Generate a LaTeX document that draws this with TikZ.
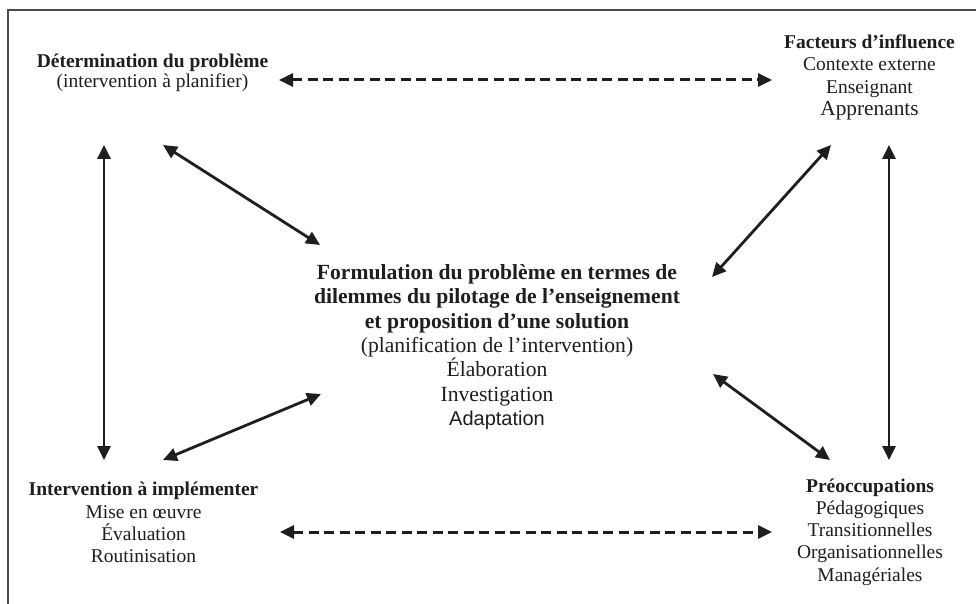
\documentclass[tikz,border=0pt]{standalone}
\usepackage{fontspec}
\setmainfont{Liberation Serif}
\newfontfamily\sansf{Liberation Sans}
\usetikzlibrary{arrows.meta}
\definecolor{ink}{HTML}{1E1E1E}
\definecolor{framec}{HTML}{4A4A4A}
\begin{document}
\begin{tikzpicture}[x=1pt,y=-1pt,
  tip/.tip={Triangle[length=14pt,width=13pt]},
  lbl/.style={align=center, inner sep=0pt, text=ink},
  corner/.style={lbl, font=\fontsize{19.5}{22.3}\selectfont},
  mid/.style={lbl, font=\fontsize{21.6}{24.3}\selectfont},
  solidarrow/.style={draw=ink, line width=2.8pt, tip-tip},
  dasharrow/.style={draw=ink, line width=3pt, dash pattern=on 10pt off 5.5pt, tip-tip},
  framel/.style={draw=framec, line width=1.8pt}
]
\useasboundingbox (0,0) rectangle (976,604);
\fill[white] (0,0) rectangle (976,604);
\draw[framel] (990,10) -- (8,10) -- (8,620);

\node[corner, font=\fontsize{19.5}{20.5}\selectfont] (det) at (152.5,73)
  {\textbf{Détermination du problème}\\(intervention à planifier)};
\node[corner] (fac) at (869.5,77.5)
  {\textbf{Facteurs d’influence}\\Contexte externe\\Enseignant\\{\fontsize{21.3}{22.3}\selectfont Apprenants}};
\node[mid] (form) at (497,347)
  {\textbf{Formulation du problème en termes de}\\
   \textbf{dilemmes du pilotage de l’enseignement}\\
   \textbf{et proposition d’une solution}\\
   (planification de l’intervention)\\
   Élaboration\\Investigation\\{\sansf\fontsize{20}{24.3}\selectfont Adaptation}};
\node[corner] (impl) at (143.5,522.5)
  {\textbf{Intervention à implémenter}\\Mise en œuvre\\Évaluation\\Routinisation};
\node[corner] (preo) at (870,532)
  {\textbf{Préoccupations}\\Pédagogiques\\Transitionnelles\\Organisationnelles\\Managériales};

\coordinate (detE) at (279,80);
\coordinate (facW) at (772,80);
\coordinate (implE) at (280,532);
\coordinate (preoW) at (772,532);
\coordinate (detS) at (104,145);
\coordinate (implN) at (104,460);
\coordinate (facS) at (889,145);
\coordinate (preoN) at (889,460);
\coordinate (detSE) at (163,145);
\coordinate (formNW) at (320,245);
\coordinate (facSW) at (831,145);
\coordinate (formNE) at (712,277);
\coordinate (implNE) at (163,460);
\coordinate (formSW) at (321,394);
\coordinate (formSE) at (713,374);
\coordinate (preoNW) at (830,460);

\draw[dasharrow] (detE) -- (facW);
\draw[dasharrow] (implE) -- (preoW);
\draw[solidarrow] (detS) -- (implN);
\draw[solidarrow] (facS) -- (preoN);
\draw[solidarrow] (detSE) -- (formNW);
\draw[solidarrow] (facSW) -- (formNE);
\draw[solidarrow] (implNE) -- (formSW);
\draw[solidarrow] (formSE) -- (preoNW);
\end{tikzpicture}
\end{document}
